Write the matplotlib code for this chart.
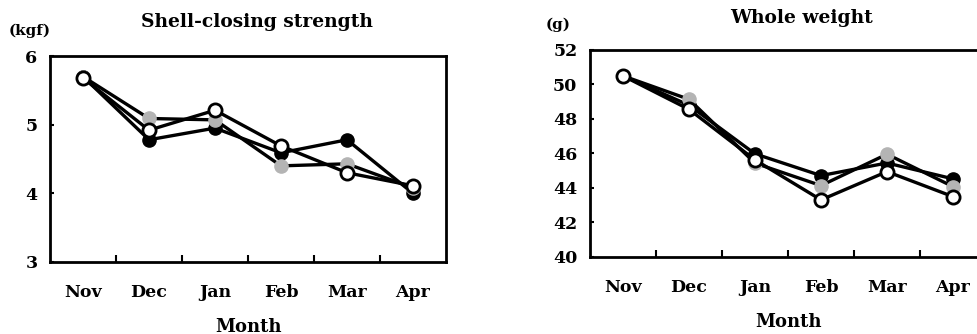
import matplotlib
matplotlib.use("Agg")
import matplotlib.pyplot as plt

months = ["Nov", "Dec", "Jan", "Feb", "Mar", "Apr"]

# Shell-closing strength (kgf)
scs_black = [5.70, 4.78, 4.95, 4.59, 4.78, 4.00]
scs_gray = [5.70, 5.09, 5.07, 4.40, 4.43, 4.08]
scs_white = [5.68, 4.92, 5.21, 4.69, 4.30, 4.11]

# Whole weight (g)
ww_black = [50.5, 48.8, 45.98, 44.72, 45.45, 44.53]
ww_gray = [50.5, 49.14, 45.44, 44.14, 45.96, 44.08]
ww_white = [50.5, 48.56, 45.63, 43.31, 44.95, 43.50]

W, H = 977, 334
fig = plt.figure(figsize=(W / 100, H / 100), dpi=100)
font = dict(family="DejaVu Serif", fontweight="bold")


def make_axes(px_left, px_top, px_right, px_bottom):
    return fig.add_axes([px_left / W, 1 - px_bottom / H,
                         (px_right - px_left) / W, (px_bottom - px_top) / H])


def draw(ax, black, gray, white, ylim, yticks, title, unit, title_xy, unit_xy):
    x = list(range(len(months)))
    ms = 9.5
    lw = 2.4
    ax.plot(x, black, color="black", lw=lw, marker="o", ms=ms,
            mfc="black", mec="black", zorder=3)
    ax.plot(x, gray, color="black", lw=lw, marker="o", ms=ms,
            mfc="#b4b4b4", mec="#b4b4b4", zorder=4)
    ax.plot(x, white, color="black", lw=lw, marker="o", ms=ms,
            mfc="white", mec="black", mew=2.0, zorder=5)
    ax.set_xlim(-0.5, len(months) - 0.5)
    ax.set_ylim(*ylim)
    ax.set_yticks(yticks)
    ax.set_yticklabels([str(t) for t in yticks], fontsize=12.5, **font)
    ax.set_xticks(x)
    ax.set_xticklabels(months, fontsize=12.5, **font)
    ax.tick_params(axis="x", length=0, pad=16)
    ax.set_xticks([i + 0.5 for i in range(len(months) - 1)], minor=True)
    ax.tick_params(axis="x", which="minor", direction="in", length=5, width=1.5)
    ax.tick_params(axis="y", direction="in", length=3, width=1.5, pad=9)
    for s in ax.spines.values():
        s.set_linewidth(2.0)
    ax.set_xlabel("Month", fontsize=13, labelpad=12, **font)
    fig.text(title_xy[0] / W, 1 - title_xy[1] / H, title, fontsize=13.4,
             ha="center", va="center", **font)
    fig.text(unit_xy[0] / W, 1 - unit_xy[1] / H, unit, fontsize=11,
             ha="left", va="center", **font)


ax1 = make_axes(50, 56, 446, 262)
draw(ax1, scs_black, scs_gray, scs_white, (3, 6), [3, 4, 5, 6],
     "Shell-closing strength", "(kgf)", (257, 22), (9, 31))

ax2 = make_axes(590, 50, 986, 257)
draw(ax2, ww_black, ww_gray, ww_white, (40, 52), [40, 42, 44, 46, 48, 50, 52],
     "Whole weight", "(g)", (802, 18), (546, 25))

fig.savefig("out.png", dpi=100)
